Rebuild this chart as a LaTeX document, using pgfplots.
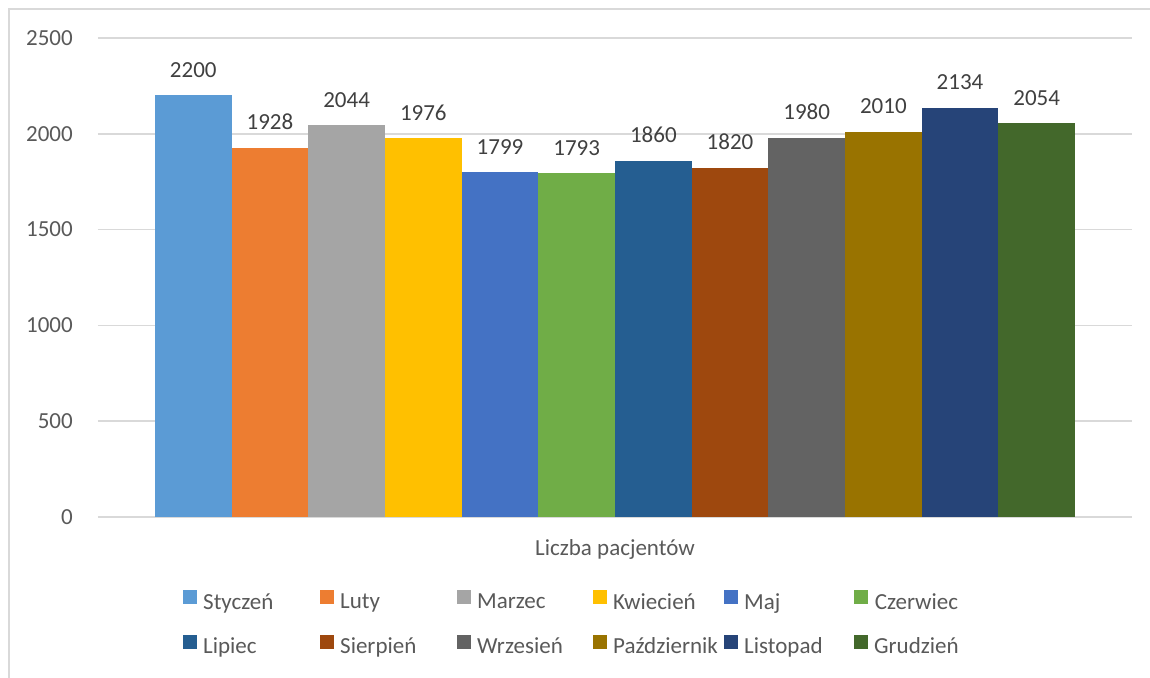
\documentclass[border=0pt]{standalone}
\usepackage{pgfplots}
\pgfplotsset{compat=1.18}
\usepackage{fontspec}
\setmainfont{Carlito}
\definecolor{c1}{HTML}{5B9BD5}
\definecolor{c2}{HTML}{ED7D31}
\definecolor{c3}{HTML}{A5A5A5}
\definecolor{c4}{HTML}{FFC000}
\definecolor{c5}{HTML}{4472C4}
\definecolor{c6}{HTML}{70AD47}
\definecolor{c7}{HTML}{255E91}
\definecolor{c8}{HTML}{9E480E}
\definecolor{c9}{HTML}{636363}
\definecolor{c10}{HTML}{997300}
\definecolor{c11}{HTML}{264478}
\definecolor{c12}{HTML}{43682B}
\definecolor{txt}{HTML}{595959}
\definecolor{lbl}{HTML}{404040}
\definecolor{gridc}{HTML}{D9D9D9}
\pgfplotsset{
  mylegend/.style={legend image code/.code={\fill[##1] (0pt,-1pt) rectangle (14pt,13pt);\path (20pt,0pt);}},
  bb/.style={ybar, bar width=1, bar shift=0pt, fill=#1, draw=none, mylegend},
}
\begin{document}
\fontsize{23}{27}\selectfont
\begin{tikzpicture}[x=1pt,y=1pt,font=\fontsize{23}{27}\selectfont]
\useasboundingbox (-98,-160) rectangle (1052,517);
\draw[gridc, line width=1.5pt] (-89,-170) -- (-89,508) -- (1060,508);
\begin{axis}[
  at={(0,0)}, anchor=south west, scale only axis,
  width=1034pt, height=479pt,
  xmin=-0.243, xmax=13.243, ymin=0, ymax=2500,
  ytick={0,500,1000,1500,2000,2500},
  ymajorgrids, grid style={gridc, line width=1.5pt},
  xtick={6.5}, xticklabels={Liczba pacjentów},
  axis line style={draw=none}, major tick length=0pt,
  /pgf/number format/1000 sep={},
  /pgf/number format/assume math mode=true,
  tick label style={text=txt},
  yticklabel style={inner sep=0pt, xshift=-25pt},
  xticklabel style={inner sep=0pt, yshift=-22pt},
  nodes near coords,
  every node near coord/.append style={text=lbl, inner sep=0pt, yshift=18pt},
  clip=false,
  legend columns=6,
  legend style={draw=none, at={(0.0822,-0.152)}, anchor=north west,
    inner sep=0pt, row sep=22pt, text=txt,
    nodes={inner sep=0pt}},
]
\addplot[bb=c1] coordinates {(1,2200)};
\addplot[bb=c2] coordinates {(2,1928)};
\addplot[bb=c3] coordinates {(3,2044)};
\addplot[bb=c4] coordinates {(4,1976)};
\addplot[bb=c5] coordinates {(5,1799)};
\addplot[bb=c6] coordinates {(6,1793)};
\addplot[bb=c7] coordinates {(7,1860)};
\addplot[bb=c8] coordinates {(8,1820)};
\addplot[bb=c9] coordinates {(9,1980)};
\addplot[bb=c10] coordinates {(10,2010)};
\addplot[bb=c11] coordinates {(11,2134)};
\addplot[bb=c12] coordinates {(12,2054)};
\addlegendentry{\makebox[117pt][l]{Styczeń}}
\addlegendentry{\makebox[117pt][l]{Luty}}
\addlegendentry{\makebox[116pt][l]{Marzec}}
\addlegendentry{\makebox[111pt][l]{Kwiecień}}
\addlegendentry{\makebox[110pt][l]{Maj}}
\addlegendentry{Czerwiec}
\addlegendentry{\makebox[117pt][l]{Lipiec}}
\addlegendentry{\makebox[117pt][l]{Sierpień}}
\addlegendentry{\makebox[116pt][l]{Wrzesień}}
\addlegendentry{\makebox[111pt][l]{Październik}}
\addlegendentry{\makebox[110pt][l]{Listopad}}
\addlegendentry{Grudzień}
\end{axis}
\end{tikzpicture}
\end{document}
